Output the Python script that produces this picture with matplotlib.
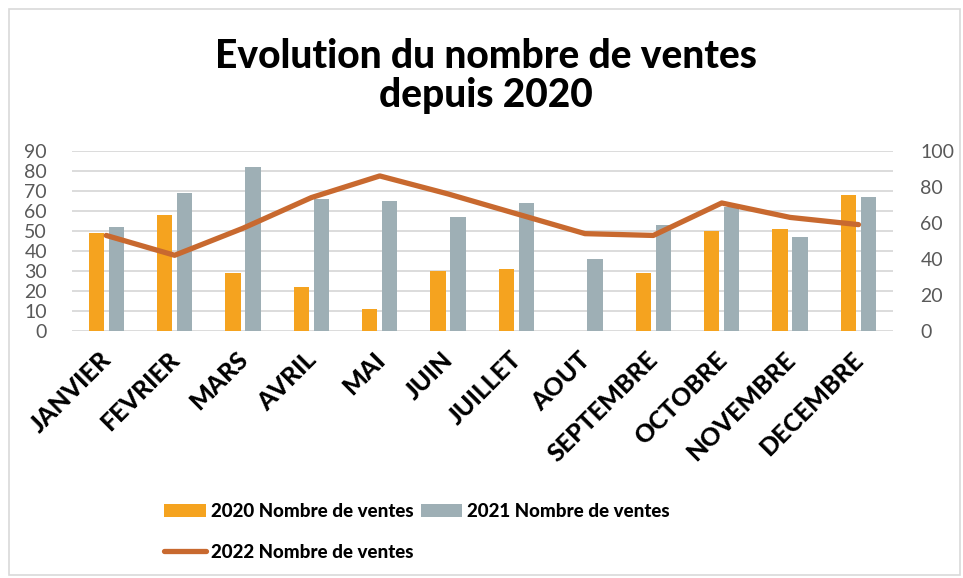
import matplotlib
matplotlib.use("Agg")
from matplotlib import pyplot as plt
from matplotlib.patches import Rectangle
import matplotlib.transforms as mtransforms
import numpy as np

months = ["JANVIER", "FEVRIER", "MARS", "AVRIL", "MAI", "JUIN", "JUILLET",
          "AOUT", "SEPTEMBRE", "OCTOBRE", "NOVEMBRE", "DECEMBRE"]
ventes_2020 = [49, 58, 29, 22, 11, 30, 31, 0, 29, 50, 51, 68]
ventes_2021 = [52, 69, 82, 66, 65, 57, 64, 36, 53, 62, 47, 67]
ventes_2022 = [53, 42, 57, 74, 86, 76, 65, 54, 53, 71, 63, 59]

plt.rcParams['font.family'] = ['Lato', 'DejaVu Sans']

c2020 = '#F5A31F'
c2021 = '#9EAFB5'
c2022 = '#C8692F'
tick_color = '#595959'

fig = plt.figure(figsize=(9.63, 5.78), dpi=100)
fig.patches.append(Rectangle((0.009, 0.006), 0.988, 0.978, transform=fig.transFigure,
                             fill=False, edgecolor='#D9D9D9', linewidth=1.2))

ax = fig.add_axes([0.0748, 0.4273, 0.8522, 0.312])
x = np.arange(len(months))
w = 0.225
ax.bar(x - 0.146, ventes_2020, w, color=c2020, label='2020 Nombre de ventes', zorder=2)
ax.bar(x + 0.146, ventes_2021, w, color=c2021, label='2021 Nombre de ventes', zorder=2)
ax.set_xlim(-0.5, len(months) - 0.5)
ax.set_ylim(0, 90)
ax.set_yticks(range(0, 91, 10))
ax.grid(axis='y', color='#D9D9D9', linewidth=1.3, zorder=0)
ax.set_axisbelow(True)
for s in ax.spines.values():
    s.set_visible(False)
ax.tick_params(axis='y', length=0, labelsize=14, labelcolor=tick_color, pad=18)
ax.tick_params(axis='x', length=0, pad=12)
ax.set_xticks(x)
ax.set_xticklabels(months, rotation=45, ha='right', rotation_mode='anchor',
                   fontsize=18, fontweight='black', color='black')
# nudge the rotated labels a little to the left
shift = mtransforms.ScaledTranslation(-7 / 100, 0, fig.dpi_scale_trans)
for lab in ax.get_xticklabels():
    lab.set_transform(lab.get_transform() + shift)

ax2 = ax.twinx()
ax2.plot(x, ventes_2022, color=c2022, linewidth=3.8, solid_capstyle='round',
         label='2022 Nombre de ventes', zorder=3)
ax2.set_ylim(0, 100)
ax2.set_yticks(range(0, 101, 20))
for s in ax2.spines.values():
    s.set_visible(False)
ax2.tick_params(axis='y', length=0, labelsize=14, labelcolor=tick_color, pad=20)

fig.text(0.505, 0.868, "Evolution du nombre de ventes\ndepuis 2020", ha='center', va='center',
         fontsize=28, fontweight='black', linespacing=1.08)

h1, l1 = ax.get_legend_handles_labels()
h2, l2 = ax2.get_legend_handles_labels()
handles = [h1[0], h2[0], h1[1]]
labels = [l1[0], l2[0], l1[1]]
fig.legend(handles, labels, ncol=2, loc='upper left', bbox_to_anchor=(0.163, 0.142),
           frameon=False, prop={'size': 13.5, 'weight': 'black'}, handlelength=2.2,
           handletextpad=0.3, columnspacing=0.35, labelspacing=1.25, borderaxespad=0)

fig.savefig('out.png', dpi=100)
